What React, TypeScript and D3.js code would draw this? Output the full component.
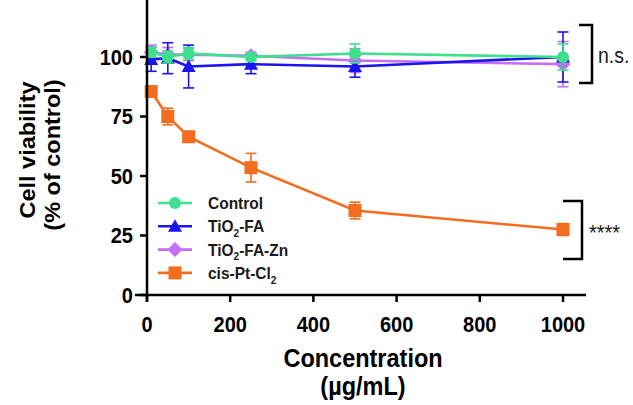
import React from "react";
import * as d3 from "d3";

const concentrations = [10, 50, 100, 250, 500, 1000];
const controlMean = [102, 100, 101.5, 100, 101.5, 100];
const controlErr = [2, 2.5, 2.5, 1.5, 4, 5.5];
const tiFaMean = [99, 99.5, 96, 97, 96, 100];
const tiFaErr = [5, 6.5, 9, 4, 4.5, 10.5];
const tiFaZnMean = [102, 101, 101, 100.5, 98.5, 97];
const tiFaZnErr = [3, 3, 2.5, 1.5, 5, 9.5];
const cisPtMean = [85.5, 75, 66.5, 53.5, 35.5, 27.5];
const cisPtErr = [1, 3.5, 2, 6, 3.5, 2.5];
const yTicks = [0, 25, 50, 75, 100];
const xTicks = [0, 200, 400, 600, 800, 1000];

const FONT = "Arial, 'Liberation Sans', Helvetica, sans-serif";
const SY = 1.1;

type Series = { name: string; mean: number[]; err: number[]; color: string; shape: string };

const series: Series[] = [
  { name: "cis-Pt-Cl2", mean: cisPtMean, err: cisPtErr, color: "#F26D1F", shape: "square" },
  { name: "TiO2-FA-Zn", mean: tiFaZnMean, err: tiFaZnErr, color: "#C66EF5", shape: "diamond" },
  { name: "TiO2-FA", mean: tiFaMean, err: tiFaErr, color: "#1A14EE", shape: "triangle" },
  { name: "Control", mean: controlMean, err: controlErr, color: "#3EE08E", shape: "circle" },
];

function Marker({ shape, x, y, color }: { shape: string; x: number; y: number; color: string }) {
  if (shape === "square") return <rect x={x - 6.5} y={y - 6.5} width={13} height={13} fill={color} />;
  if (shape === "circle") return <circle cx={x} cy={y} r={6} fill={color} />;
  if (shape === "triangle")
    return <path d={`M${x},${y - 7}L${x + 7},${y + 5.5}L${x - 7},${y + 5.5}Z`} fill={color} />;
  return <path d={`M${x},${y - 7.5}L${x + 7.5},${y}L${x},${y + 7.5}L${x - 7.5},${y}Z`} fill={color} />;
}

function Label({ text, size }: { text: string; size: number }) {
  if (text.startsWith("TiO2") || text.endsWith("Cl2")) {
    const idx = text.indexOf("2");
    return (
      <>
        {text.slice(0, idx)}
        <tspan fontSize={size * 0.65} dy={size * 0.28}>2</tspan>
        <tspan dy={-size * 0.28}>{text.slice(idx + 1)}</tspan>
      </>
    );
  }
  return <>{text}</>;
}

function T({
  x,
  y,
  rotate = 0,
  size,
  anchor = "start",
  bold = true,
  fill = "#000",
  scaleY = SY,
  children,
}: {
  x: number;
  y: number;
  rotate?: number;
  size: number;
  anchor?: string;
  bold?: boolean;
  fill?: string;
  scaleY?: number;
  children: React.ReactNode;
}) {
  return (
    <text
      transform={`translate(${x},${y}) rotate(${rotate}) scale(1,${scaleY})`}
      fontFamily={FONT}
      fontWeight={bold ? "bold" : "normal"}
      fontSize={size}
      textAnchor={anchor as any}
      fill={fill}
    >
      {children}
    </text>
  );
}

export default function App() {
  const x = d3.scaleLinear().domain([0, 1000]).range([147, 563]);
  const y = d3.scaleLinear().domain([0, 100]).range([295, 57]);
  const line = d3
    .line<number>()
    .x((_, i) => x(concentrations[i]))
    .y((d) => y(d));

  const legendOrder = ["Control", "TiO2-FA", "TiO2-FA-Zn", "cis-Pt-Cl2"];

  return (
    <svg width={633} height={405} style={{ position: "absolute", left: 0, top: 0, background: "#fff" }}>
      <rect width={633} height={405} fill="#fff" />
      {series.map((s) => (
        <g key={s.name}>
          <path d={line(s.mean) || ""} fill="none" stroke={s.color} strokeWidth={2.6} />
          {s.mean.map((m, i) => {
            const cx = x(concentrations[i]);
            const y1 = y(m + s.err[i]);
            const y2 = y(m - s.err[i]);
            return (
              <g key={i} stroke={s.color} strokeWidth={1.6}>
                <line x1={cx} x2={cx} y1={y1} y2={y2} />
                <line x1={cx - 5.5} x2={cx + 5.5} y1={y1} y2={y1} />
                <line x1={cx - 5.5} x2={cx + 5.5} y1={y2} y2={y2} />
              </g>
            );
          })}
          {s.mean.map((m, i) => (
            <Marker key={i} shape={s.shape} x={x(concentrations[i])} y={y(m)} color={s.color} />
          ))}
        </g>
      ))}

      <g stroke="#000" strokeWidth={2.5}>
        <line x1={147} x2={147} y1={-2} y2={302} />
        <line x1={135} x2={586} y1={295} y2={295} />
        {yTicks.map((t) => (
          <line key={t} x1={140} x2={147} y1={y(t)} y2={y(t)} />
        ))}
        {xTicks.map((t) => (
          <line key={t} x1={x(t)} x2={x(t)} y1={295} y2={302} />
        ))}
      </g>
      {yTicks.map((t) => (
        <T key={t} x={133} y={y(t) + 7.5} size={20} anchor="end">
          {t}
        </T>
      ))}
      {xTicks.map((t) => (
        <T key={t} x={x(t)} y={332} size={20} anchor="middle">
          {t}
        </T>
      ))}
      <T x={363} y={367} size={23.5} anchor="middle">Concentration</T>
      <T x={363} y={395} size={23.5} anchor="middle">(µg/mL)</T>
      <T x={35} y={150} rotate={-90} size={23.5} anchor="middle" scaleY={0.92}>Cell viability</T>
      <T x={60} y={155} rotate={-90} size={23.5} anchor="middle" scaleY={0.92}>(% of control)</T>

      {legendOrder.map((name, i) => {
        const s = series.find((d) => d.name === name)!;
        const ly = 203 + i * 23.3;
        return (
          <g key={name}>
            <line x1={158} x2={192} y1={ly} y2={ly} stroke={s.color} strokeWidth={2.6} />
            <Marker shape={s.shape} x={175} y={ly} color={s.color} />
            <T x={208} y={ly + 6} size={15.5} fill="#1a1a1a">
              <Label text={name} size={15.5} />
            </T>
          </g>
        );
      })}

      <g fill="none" stroke="#000" strokeWidth={2.5}>
        <path d="M579,25H592V83H579" />
        <path d="M563,201H582V259H563" />
      </g>
      <T x={598} y={63} size={19.5} bold={false} fill="#1a1a1a">n.s.</T>
      <T x={589} y={240} size={20} bold={false} fill="#1a1a1a">****</T>
    </svg>
  );
}
